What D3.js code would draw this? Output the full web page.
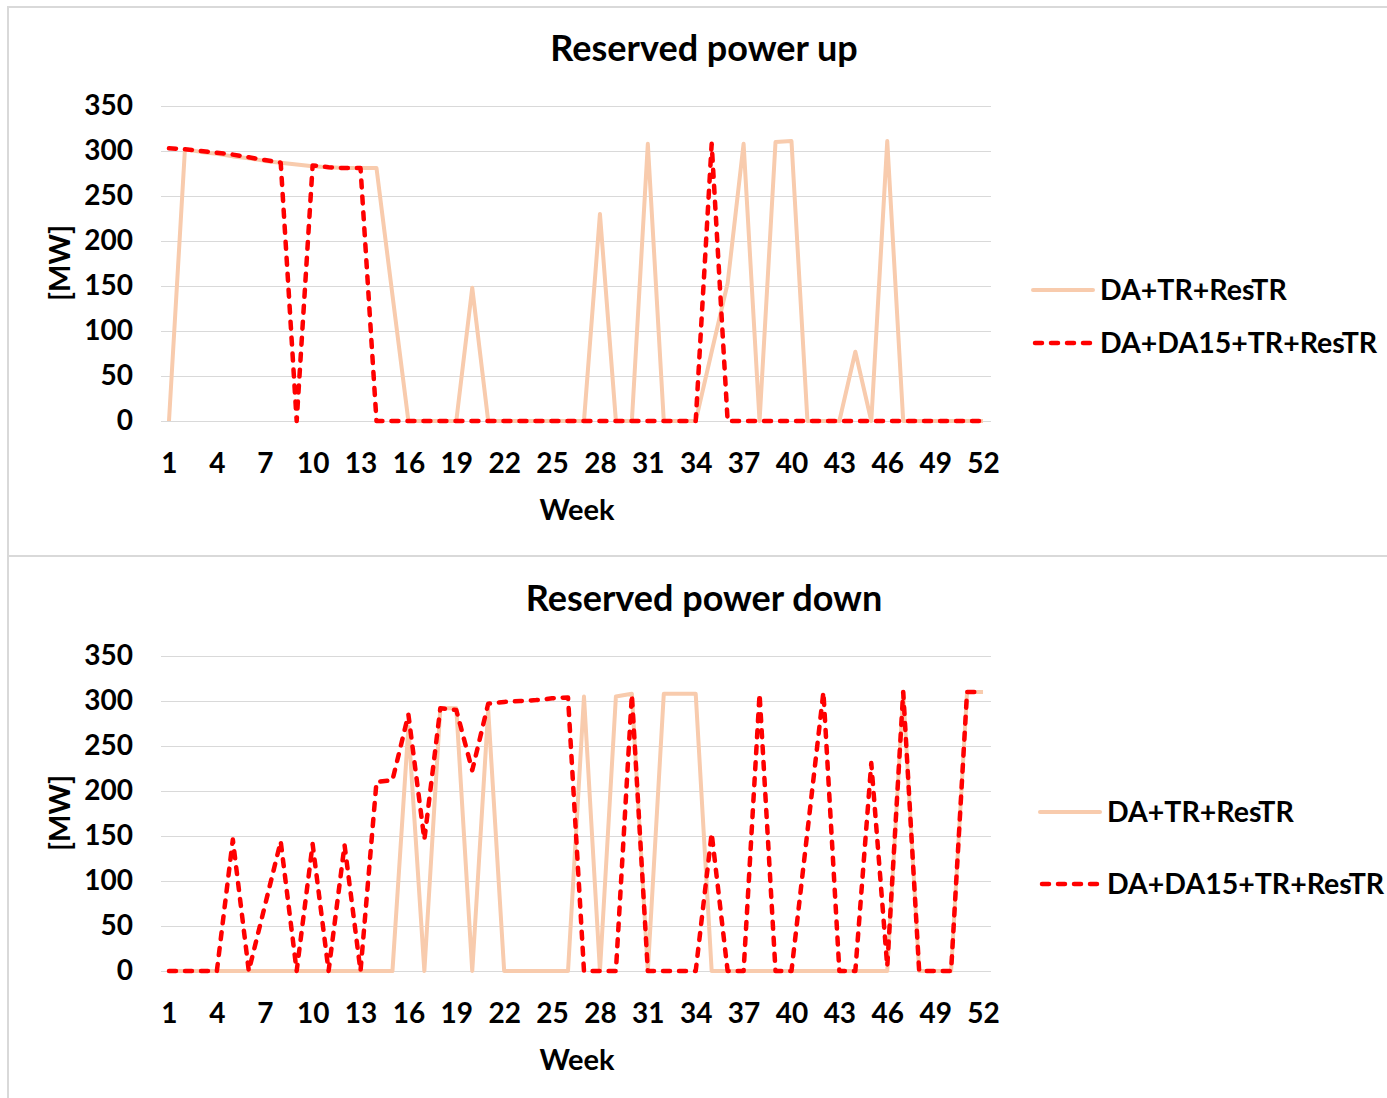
<!DOCTYPE html>
<html>
<head>
<meta charset="utf-8">
<script src="https://cdn.jsdelivr.net/npm/d3@7"></script>
<style>
  html, body { margin: 0; padding: 0; background: #fff; }
  svg { display: block; font-family: Lato, "Open Sans", sans-serif; font-weight: bold; }
</style>
</head>
<body>
<svg id="chart" width="1387" height="1098"></svg>
<script>
const weeks = d3.range(1, 53);
const xTickLabels = [1, 4, 7, 10, 13, 16, 19, 22, 25, 28, 31, 34, 37, 40, 43, 46, 49, 52];
const yTicks = [0, 50, 100, 150, 200, 250, 300, 350];
const seriesNames = ["DA+TR+ResTR", "DA+DA15+TR+ResTR"];
const titles = ["Reserved power up", "Reserved power down"];

const upBase = [0,302,299,297,294,292,289,287,285,283,282,281,281,281,140,0,0,0,0,148,0,0,0,0,0,0,0,230,0,0,308,0,0,0,77,153,308,0,310,311,0,0,0,77,0,311,0,0,0,0,0,0];
const upDA15 = [303,302,300,298,296,293,290,287,0,284,282,281,281,0,0,0,0,0,0,0,0,0,0,0,0,0,0,0,0,0,0,0,0,0,308,0,0,0,0,0,0,0,0,0,0,0,0,0,0,0,0,0];
const downBase = [0,0,0,0,0,0,0,0,0,0,0,0,0,0,0,271,0,292,292,0,290,0,0,0,0,0,305,0,305,308,0,308,308,308,0,0,0,0,0,0,0,0,0,0,0,0,310,0,0,0,310,310];
const downDA15 = [0,0,0,0,146,0,72,144,0,141,0,140,0,210,212,285,146,292,290,223,297,299,300,301,303,304,0,0,0,307,0,0,0,0,153,0,0,308,0,0,155,310,0,0,231,5,310,0,0,0,310,310];

const svg = d3.select("#chart");

// frame
svg.append("line").attr("x1", 8).attr("x2", 1387).attr("y1", 7).attr("y2", 7).attr("stroke", "#d9d9d9").attr("stroke-width", 2);
svg.append("line").attr("x1", 8).attr("x2", 8).attr("y1", 6).attr("y2", 1098).attr("stroke", "#d9d9d9").attr("stroke-width", 2);
svg.append("line").attr("x1", 8).attr("x2", 1387).attr("y1", 556).attr("y2", 556).attr("stroke", "#d9d9d9").attr("stroke-width", 2);

const panels = [
  { title: titles[0], a: upBase, b: upDA15, top: 0, legX: 1033, legY: [290, 343] },
  { title: titles[1], a: downBase, b: downDA15, top: 550, legX: 1040, legY: [812, 884] }
];

panels.forEach(p => {
  const g = svg.append("g").attr("transform", `translate(0,${p.top})`);
  const x = d3.scalePoint().domain(weeks).range([161, 991]).padding(0.5);
  const y = d3.scaleLinear().domain([0, 350]).range([421, 106]);

  // title
  g.append("text").attr("x", 704).attr("y", 61).attr("text-anchor", "middle")
    .attr("font-size", 36).attr("fill", "#000").text(p.title);

  // grid
  const yAxis = d3.axisLeft(y).tickValues(yTicks).tickSize(-(991 - 161)).tickPadding(28);
  const ya = g.append("g").attr("transform", "translate(161,0)").call(yAxis);
  ya.select(".domain").remove();
  ya.selectAll(".tick line").attr("stroke", "#d9d9d9").attr("stroke-width", 1);
  ya.selectAll(".tick text").attr("font-size", 28).attr("fill", "#000")
    .attr("font-family", "Lato, sans-serif").attr("font-weight", "bold");

  const xAxis = d3.axisBottom(x).tickValues(xTickLabels).tickSize(0).tickPadding(32);
  const xa = g.append("g").attr("transform", "translate(0,421)").call(xAxis);
  xa.select(".domain").remove();
  xa.selectAll(".tick text").attr("font-size", 28).attr("fill", "#000")
    .attr("font-family", "Lato, sans-serif").attr("font-weight", "bold");

  // axis titles
  g.append("text").attr("x", 577).attr("y", 520).attr("text-anchor", "middle")
    .attr("font-size", 29).attr("fill", "#000").text("Week");
  g.append("text").attr("transform", "translate(70,263) rotate(-90)").attr("text-anchor", "middle")
    .attr("font-size", 29).attr("fill", "#000").text("[MW]");

  const line = d3.line().x((d, i) => x(weeks[i])).y(d => y(d));
  g.append("path").datum(p.a).attr("d", line).attr("fill", "none")
    .attr("stroke", "#F8CBAD").attr("stroke-width", 4).attr("stroke-linejoin", "round");
  g.append("path").datum(p.b).attr("d", line).attr("fill", "none")
    .attr("stroke", "#FF0000").attr("stroke-width", 4.5).attr("stroke-linejoin", "round")
    .attr("stroke-linecap", "round").attr("stroke-dasharray", "7,9");

  // legend
  const lg = svg.append("g");
  lg.append("line").attr("x1", p.legX).attr("x2", p.legX + 60).attr("y1", p.legY[0]).attr("y2", p.legY[0])
    .attr("stroke", "#F8CBAD").attr("stroke-width", 4).attr("stroke-linecap", "round");
  lg.append("text").attr("x", p.legX + 67).attr("y", p.legY[0] + 10).attr("font-size", 28.5).attr("fill", "#000").text(seriesNames[0]);
  lg.append("line").attr("x1", p.legX + 2).attr("x2", p.legX + 60).attr("y1", p.legY[1]).attr("y2", p.legY[1])
    .attr("stroke", "#FF0000").attr("stroke-width", 4.5).attr("stroke-linecap", "round").attr("stroke-dasharray", "7,9");
  lg.append("text").attr("x", p.legX + 67).attr("y", p.legY[1] + 10).attr("font-size", 28.5).attr("fill", "#000").text(seriesNames[1]);
});
</script>
</body>
</html>
